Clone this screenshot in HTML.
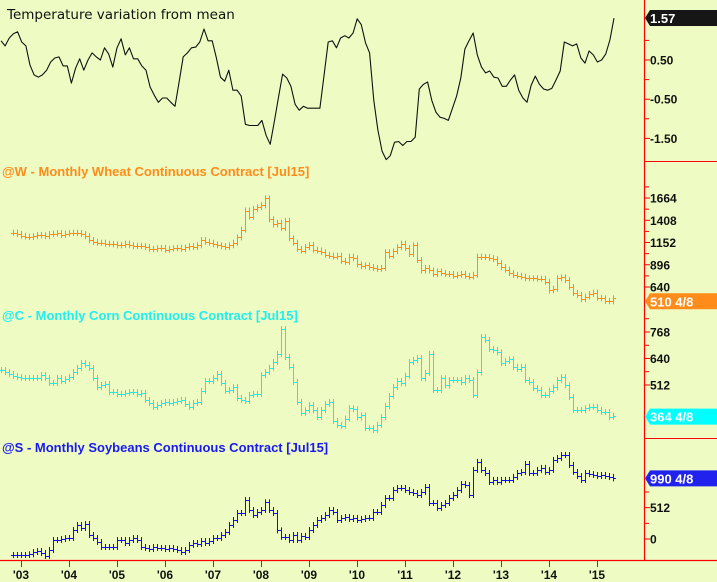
<!DOCTYPE html>
<html><head><meta charset="utf-8">
<style>
html,body{margin:0;padding:0;background:#eefcc4;}
svg{display:block;}
text{font-family:"Liberation Sans",Arial,sans-serif;}
</style></head>
<body>
<svg id="chart" width="717" height="582" viewBox="0 0 717 582" xmlns="http://www.w3.org/2000/svg">
<rect x="0" y="0" width="717" height="582" fill="#eefcc4"/>
<g id="axes"></g>
<g id="series"></g>
<text x="7" y="19" font-size="13.5" fill="#111" style="font-family:'DejaVu Sans',sans-serif">Temperature variation from mean</text>
<text x="2" y="176" font-size="13" font-weight="bold" fill="#ff8c1a">@W - Monthly  Wheat Continuous Contract [Jul15]</text>
<text x="2" y="320" font-size="13" font-weight="bold" fill="#22eeee">@C - Monthly  Corn Continuous Contract [Jul15]</text>
<text x="2" y="452" font-size="13" font-weight="bold" fill="#1a1aee">@S - Monthly  Soybeans Continuous Contract [Jul15]</text>
</svg>
<script>
// ---- data ----
const yearLabels = ["'03","'04","'05","'06","'07","'08","'09","'10","'11","'12","'13","'14","'15"];
const tempStartMonth = -5, tempEndMonth = 148.25;
const tempValues = [0.99,0.86,1.06,1.17,1.22,0.96,0.86,0.37,0.12,0.06,0.12,0.24,0.45,0.55,0.58,0.35,0.35,-0.09,0.29,0.53,0.24,0.50,0.68,0.58,0.50,0.81,0.65,0.32,0.81,1.04,0.63,0.81,0.53,0.53,0.35,0.24,-0.19,-0.40,-0.58,-0.47,-0.47,-0.58,-0.68,-0.06,0.58,0.68,0.81,0.83,0.96,1.29,0.99,0.99,0.55,0.06,-0.04,0.24,-0.27,-0.27,-0.42,-1.14,-1.17,-1.17,-1.17,-1.04,-1.42,-1.65,-1.06,-0.45,0.14,0.04,-0.17,-0.63,-0.78,-0.68,-0.73,-0.73,-0.73,-0.73,
0.12,0.96,0.99,0.81,1.06,1.12,1.06,1.19,1.55,1.40,0.94,0.68,-0.53,-1.29,-1.83,-2.04,-1.94,-1.60,-1.58,-1.68,-1.58,-1.58,-1.47,-0.24,-0.12,-0.06,-0.53,-0.83,-0.96,-0.99,-1.04,-0.73,-0.42,0.04,0.78,0.99,1.19,0.63,0.32,0.17,0.22,0.06,0.04,-0.17,-0.17,-0.01,0.12,-0.27,-0.47,-0.58,-0.14,0.09,-0.12,-0.24,-0.27,-0.22,-0.01,0.22,0.96,0.91,0.86,0.91,0.55,0.42,0.73,0.63,0.45,0.50,0.65,1.01,1.57];
const tempTicks = [0.50,-0.50,-1.50];
const tempLast = 1.57;

const wheatStart = -2;
const wheatClose = [1265,1250,
1230,1220,1215,1225,1240,1235,1225,1250,1255,1260,1240,1255,
1260,1265,1260,1250,1225,1180,1160,1150,1150,1140,1135,1130,
1120,1125,1140,1120,1110,1115,1110,1100,1080,1075,1085,1090,
1070,1080,1085,1090,1080,1095,1110,1100,1120,1180,1160,1150,
1130,1120,1110,1100,1120,1150,1210,1300,1520,1450,1540,1560,
1580,1660,1420,1360,1380,1320,1400,1200,1150,1080,1060,1100,
1125,1070,1060,1040,1010,1000,990,1000,940,930,990,970,
900,880,890,870,860,850,860,1040,1000,1050,1100,1140,
1090,1020,1120,950,830,860,830,790,820,800,790,790,
770,780,790,770,760,780,990,985,985,975,960,915,
870,840,800,780,770,760,740,740,740,735,735,700,
600,620,740,750,720,640,570,550,500,530,560,575,
515,510,480,475,510];
const wheatTicks = [1664,1408,1152,896,640];
const wheatLast = "510 4/8";

const cornStart = -5;
const cornClose = [584,575,565,556,550,
546,546,546,546,546,560,546,522,522,546,531,541,
551,575,594,618,610,594,546,502,512,517,478,478,
468,470,474,478,478,468,474,440,425,406,416,425,
430,425,430,435,440,420,406,425,430,483,531,531,
545,565,522,484,488,502,449,440,435,464,468,468,
560,575,595,623,662,782,647,600,527,430,377,390,
415,390,357,390,420,430,338,319,315,350,400,395,
355,365,304,304,295,320,357,410,460,502,531,520,
557,623,633,642,545,570,662,488,488,545,510,536,
536,536,526,545,536,464,573,744,730,686,680,670,
618,628,636,600,590,600,536,526,497,490,464,464,
485,500,536,550,510,454,391,391,391,400,406,406,
391,382,382,357,364];
const cornTicks = [768,640,512];
const cornLast = "364 4/8";

const soyStart = -2;
const soyClose = [-262,-262,
-262,-262,-250,-212,-196,-229,-278,-180,-16,-16,0,16,
16,147,229,180,245,65,16,-49,-131,-131,-131,-131,
-16,-16,-65,-16,16,-16,-131,-147,-164,-131,-147,-147,
-164,-147,-164,-180,-213,-180,-98,-65,-82,-33,-65,-33,
16,16,65,114,229,311,425,425,638,474,392,441,
474,600,474,425,140,33,33,-16,65,-16,49,33,
147,229,311,343,392,474,441,311,343,360,327,343,
311,327,343,343,441,441,556,670,670,801,834,834,
801,768,752,719,768,850,589,589,507,556,589,670,
719,801,899,883,719,1128,1259,1128,1079,932,965,932,
965,965,965,1014,1079,1095,1226,1079,1079,1128,1161,1095,
1128,1292,1324,1373,1373,1210,1095,1030,965,1079,1061,1046,
1030,1046,1030,1014,990];
const soyTicks = [512,0];
const soyLast = "990 4/8";

// ---- scales ----
const NS = "http://www.w3.org/2000/svg";
const xM = m => 21 + 4*m;
const yTemp = v => 79.6 - 39.2*v;
const yWheat = v => 287 - (v-640)*0.0869;
const yCorn = v => 385 - (v-512)*0.207;
const ySoy = v => 539 - v*0.0612;
const axisX = 644;

function mk(tag, attrs, parent){
  const el = document.createElementNS(NS, tag);
  for (const k in attrs) el.setAttribute(k, attrs[k]);
  parent.appendChild(el);
  return el;
}
const axes = document.getElementById('axes');
const series = document.getElementById('series');

let ln = mk('line',{x1:axisX+0.5,y1:0,x2:axisX+0.5,y2:561,stroke:'#ff0000','stroke-width':1.2},axes);


ln = mk('line',{x1:0,y1:560.5,x2:717,y2:560.5,stroke:'#ff0000','stroke-width':1.2},axes);


[161.5,438.5].forEach(y=>{
  const s = mk('line',{x1:axisX,y1:y,x2:717,y2:y,stroke:'#ff0000','stroke-width':1},axes);
  
  
});

yearLabels.forEach((lab,i)=>{
  const x = xM(12*i);
  const t = mk('line',{x1:x+0.5,y1:560,x2:x+0.5,y2:567,stroke:'#ff0000','stroke-width':1},axes);
  
  
  const tx = mk('text',{x:x,y:579,'font-size':12,'font-weight':'bold','text-anchor':'middle',fill:'#111'},axes);
  tx.textContent = lab;
  
  
});

function yTicks(vals, scale, fmt, minorStep){
  vals.forEach(v=>{
    const y = scale(v);
    const t = mk('line',{x1:axisX,y1:y,x2:axisX+6,y2:y,stroke:'#ff0000','stroke-width':1},axes);
    
    
    const tx = mk('text',{x:axisX+6,y:y+4.5,'font-size':12,'font-weight':'bold',fill:'#111'},axes);
    tx.textContent = fmt(v);
    
    
    const ym = scale(v+minorStep);
    const m = mk('line',{x1:axisX,y1:ym,x2:axisX+5,y2:ym,stroke:'#ff0000','stroke-width':1},axes);
    
    
  });
}
yTicks(tempTicks, yTemp, v=>v.toFixed(2), 0.5);
yTicks(wheatTicks, yWheat, v=>String(v), 128);
yTicks(cornTicks, yCorn, v=>String(v), 64);
yTicks(soyTicks, ySoy, v=>String(v), 256);

const n = tempValues.length;
const pts = tempValues.map((v,i)=>{
  const m = tempStartMonth + (tempEndMonth-tempStartMonth)*i/(n-1);
  return xM(m).toFixed(1)+','+yTemp(v).toFixed(1);
}).join(' ');
const pl = mk('polyline',{points:pts,fill:'none',stroke:'#111','stroke-width':1.1,'stroke-linejoin':'round'},series);



function bars(closes, start, scale, color, name){
  const g = mk('g',{fill:color},series);
  
  
  closes.forEach((c,i)=>{
    const o = i>0 ? closes[i-1] : c;
    const x = Math.round(xM(start+i));
    const yo = scale(o), yc = scale(c);
    const top = Math.min(yo,yc)-3, bot = Math.max(yo,yc)+3;
    const r = mk('rect',{x:x,y:top.toFixed(1),width:1,height:(bot-top).toFixed(1)},g);
    
    
    mk('rect',{x:x-2,y:Math.round(yo),width:2,height:1},g);
    mk('rect',{x:x+1,y:Math.round(yc),width:2,height:1},g);
  });
}
bars(wheatClose, wheatStart, yWheat, '#ff8c1a', 'wheat');
bars(cornClose, cornStart, yCorn, '#22e8e8', 'corn');
bars(soyClose, soyStart, ySoy, '#1010ee', 'soybeans');

function flag(y, text, bg, fg, name){
  const g = mk('g',{},axes);
  
  
  mk('path',{d:`M${axisX+1},${y} L${axisX+6},${y-8} L717,${y-8} L717,${y+8} L${axisX+6},${y+8} Z`,fill:bg},g);
  const t = mk('text',{x:axisX+6,y:y+5,'font-size':13,'font-weight':'bold',fill:fg},g);
  t.textContent = text;
}
flag(yTemp(tempLast), tempLast.toFixed(2), '#161616', '#ffffff', 'temperature-last-value');
flag(yWheat(wheatClose[wheatClose.length-1])+3, wheatLast, '#ff8c1a', '#ffffff', 'wheat-last-value');
flag(yCorn(cornClose[cornClose.length-1])+1, cornLast, '#00ffff', '#ffffff', 'corn-last-value');
flag(ySoy(soyClose[soyClose.length-1]), soyLast, '#2222ee', '#ffffff', 'soybeans-last-value');
</script>
</body></html>
